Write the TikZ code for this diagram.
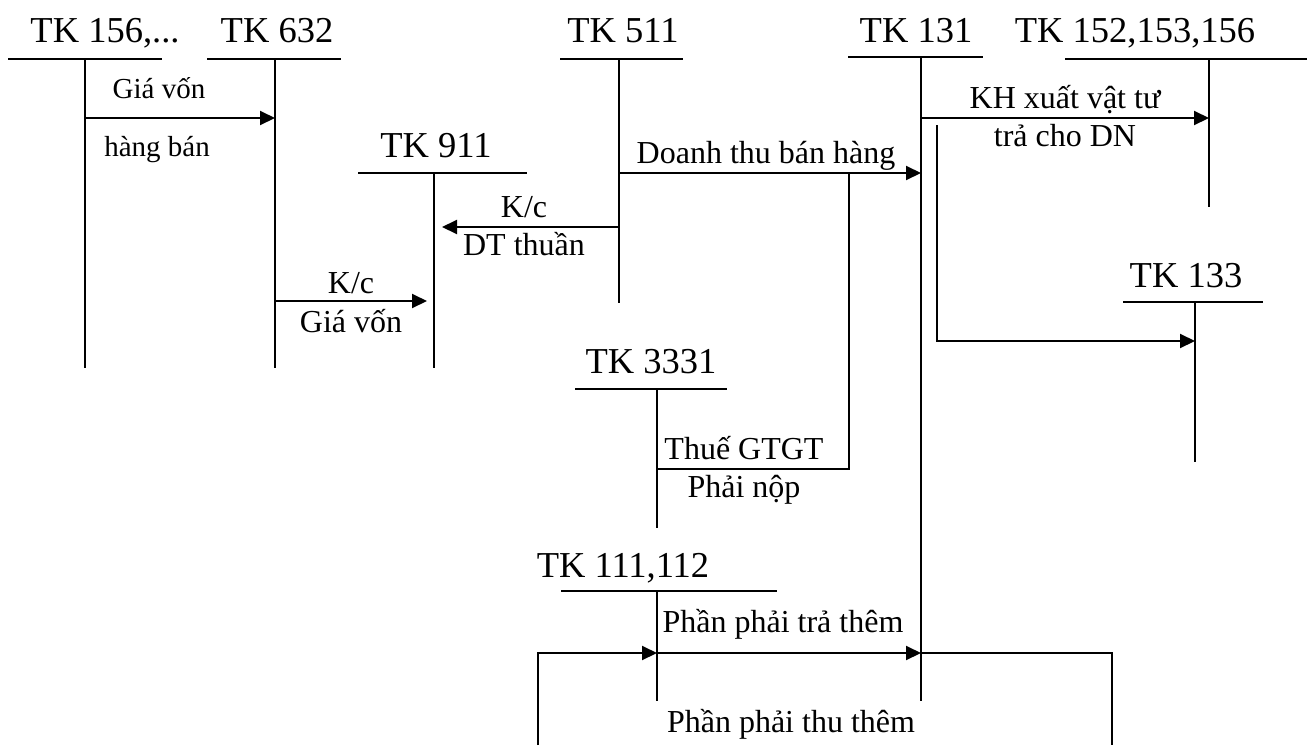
\documentclass[tikz,border=0pt]{standalone}
\usepackage{fontspec}
\setmainfont{Liberation Serif}
\usetikzlibrary{arrows.meta}
\begin{document}
\begin{tikzpicture}[x=1pt,y=-1pt,
  acct/.style={line width=2pt},
  flow/.style={line width=2pt,-{Triangle[length=15pt,width=14pt]}},
  link/.style={line width=2pt},
  title/.style={anchor=base,inner sep=0pt,font=\fontsize{36.5}{40}\selectfont},
  lbl/.style={anchor=base,inner sep=0pt,font=\fontsize{32}{36}\selectfont},
  small/.style={anchor=base,inner sep=0pt,font=\fontsize{29}{33}\selectfont}]
\useasboundingbox (0,0) rectangle (1315,745);

% ---- T-accounts: title, bar and stem (jX = top of stem, eX = foot) ----
\node[title] (n156) at (105,42) {TK 156,...};
\coordinate (j156) at (85,59);  \coordinate (e156) at (85,368);
\draw[acct] (8,59) -- (162,59);  \draw[acct] (j156) -- (e156);

\node[title] (n632) at (277,42) {TK 632};
\coordinate (j632) at (275,59); \coordinate (e632) at (275,368);
\draw[acct] (207,59) -- (341,59); \draw[acct] (j632) -- (e632);

\node[title] (n911) at (436,157) {TK 911};
\coordinate (j911) at (434,173); \coordinate (e911) at (434,368);
\draw[acct] (358,173) -- (527,173); \draw[acct] (j911) -- (e911);

\node[title] (n511) at (623,42) {TK 511};
\coordinate (j511) at (619,59); \coordinate (e511) at (619,303);
\draw[acct] (560,59) -- (683,59); \draw[acct] (j511) -- (e511);

\node[title] (n131) at (916,42) {TK 131};
\coordinate (j131) at (921,57); \coordinate (e131) at (921,701);
\draw[acct] (848,57) -- (983,57); \draw[acct] (j131) -- (e131);

\node[title] (n152) at (1135,42) {TK 152,153,156};
\coordinate (j152) at (1209,59); \coordinate (e152) at (1209,207);
\draw[acct] (1065,59) -- (1307,59); \draw[acct] (j152) -- (e152);

\node[title] (n133) at (1186,287) {TK 133};
\coordinate (j133) at (1195,302); \coordinate (e133) at (1195,462);
\draw[acct] (1123,302) -- (1263,302); \draw[acct] (j133) -- (e133);

\node[title] (n3331) at (651,373) {TK 3331};
\coordinate (j3331) at (657,389); \coordinate (e3331) at (657,528);
\draw[acct] (575,389) -- (727,389); \draw[acct] (j3331) -- (e3331);

\node[title] (n111) at (623,577) {TK 111,112};
\coordinate (j111) at (657,591); \coordinate (e111) at (657,701);
\draw[acct] (561,591) -- (777,591); \draw[acct] (j111) -- (e111);

% ---- Entries ----
% cost of goods sold
\draw[flow] (j156 |- 0,118) -- (j632 |- 0,118);
\node[small] (l1a) at (159,98) {Giá vốn};
\node[small] (l1b) at (157,156) {hàng bán};

% closing cost of goods sold to 911
\draw[flow,shorten >=7pt] (j632 |- 0,301) -- (j911 |- 0,301);
\node[lbl] (l2a) at (351,293) {K/c};
\node[lbl] (l2b) at (351,332) {Giá vốn};

% closing net revenue to 911
\draw[flow,shorten >=8pt] (j511 |- 0,227) -- (j911 |- 0,227);
\node[lbl] (l3a) at (524,217) {K/c};
\node[lbl] (l3b) at (524,255) {DT thuần};

% sales revenue to receivables
\draw[flow] (j511 |- 0,173) -- (j131 |- 0,173);
\node[lbl] (l4) at (766,163) {Doanh thu bán hàng};

% output VAT branch
\coordinate (vat) at (849,173);
\draw[link] (vat) -- (vat |- 0,469) -- (j3331 |- 0,469);
\node[lbl] (l5a) at (744,459) {Thuế GTGT};
\node[lbl] (l5b) at (744,497) {Phải nộp};

% goods returned by customer
\draw[flow] (j131 |- 0,118) -- (j152 |- 0,118);
\node[lbl] (l6a) at (1065,108) {KH xuất vật tư};
\node[lbl] (l6b) at (1065,146) {trả cho DN};

% input VAT
\coordinate (ret) at (937,125);
\draw[flow] (ret) -- (ret |- 0,341) -- (j133 |- 0,341);

% cash settlement
\coordinate (cl) at (538,745);
\coordinate (cr) at (1112,745);
\draw[flow] (cl) -- (cl |- 0,653) -- (j111 |- 0,653);
\draw[flow] (j111 |- 0,653) -- (j131 |- 0,653);
\draw[link] (j131 |- 0,653) -- (cr |- 0,653) -- (cr);
\node[lbl] (l7a) at (783,632) {Phần phải trả thêm};
\node[lbl] (l7b) at (791,732) {Phần phải thu thêm};
\end{tikzpicture}
\end{document}
